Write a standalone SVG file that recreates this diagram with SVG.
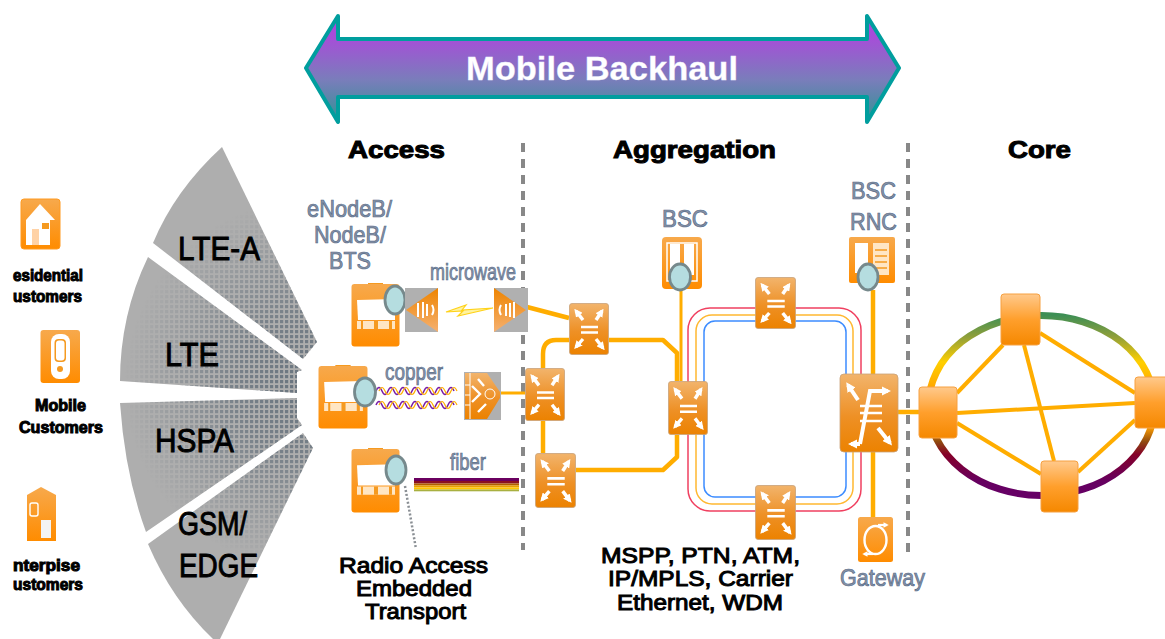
<svg xmlns="http://www.w3.org/2000/svg" xmlns:xlink="http://www.w3.org/1999/xlink" width="1165" height="639" viewBox="0 0 1165 639">
<style>
text{font-family:"Liberation Sans",Arial,sans-serif;text-anchor:start}
.bk{fill:#000;stroke:#000;stroke-width:1;font-weight:700}
.bl{fill:#000;stroke:#000;stroke-width:1}
.gy{fill:#8a94a4;stroke:#53698a;stroke-width:.7}
.cu{fill:none;stroke:#ffad00;stroke-linejoin:round}
.w3{stroke-width:3}.w4{stroke-width:4.5}
.ring{fill:none;stroke-width:1.5}
.cloud{fill:#b5dde0;stroke:#76898c;stroke-width:2.800}
.sec{fill:#aeaeae}
.dash{stroke:#888;stroke-width:4;stroke-dasharray:9 7;fill:none}
</style>
<defs>
<linearGradient id="band" x1="0" y1="0" x2="0" y2="1"><stop offset="0" stop-color="#ab45dd"/><stop offset=".2" stop-color="#a64ed8"/><stop offset=".6" stop-color="#7a7dbb"/><stop offset="1" stop-color="#2f9393"/></linearGradient>
<linearGradient id="org" x1="0" y1="0" x2="0" y2="1"><stop offset="0" stop-color="#f2b46c"/><stop offset=".55" stop-color="#ee9025"/><stop offset="1" stop-color="#ec8200"/></linearGradient>
<linearGradient id="core" x1="0" y1="0" x2="0" y2="1"><stop offset="0" stop-color="#ffc98c"/><stop offset=".5" stop-color="#ff9f2c"/><stop offset="1" stop-color="#f58800"/></linearGradient>
<linearGradient id="bs" x1="0" y1="0" x2="0" y2="1"><stop offset="0" stop-color="#f7a94c"/><stop offset="1" stop-color="#ff8c00"/></linearGradient>
<linearGradient id="tri" x1="0" y1="0" x2="0" y2="1"><stop offset="0" stop-color="#ee8400"/><stop offset="1" stop-color="#f5b070"/></linearGradient>
<linearGradient id="ringc" gradientUnits="userSpaceOnUse" x1="0" y1="315" x2="0" y2="496"><stop offset="0" stop-color="#3d8f55"/><stop offset=".12" stop-color="#8f9f3a"/><stop offset=".26" stop-color="#ffcf00"/><stop offset=".4" stop-color="#ffa800"/><stop offset=".62" stop-color="#ffa000"/><stop offset=".7" stop-color="#8f4a10"/><stop offset=".77" stop-color="#850028"/><stop offset=".92" stop-color="#660060"/><stop offset="1" stop-color="#660066"/></linearGradient>
<radialGradient id="fade" gradientUnits="userSpaceOnUse" cx="310" cy="385" r="185"><stop offset="0" stop-color="#ddd"/><stop offset=".4" stop-color="#aaa"/><stop offset=".75" stop-color="#444"/><stop offset="1" stop-color="#000"/></radialGradient>
<mask id="fm" maskUnits="userSpaceOnUse" x="100" y="130" width="240" height="510"><rect x="100" y="130" width="240" height="510" fill="url(#fade)"/></mask>
<pattern id="dots" patternUnits="userSpaceOnUse" width="5" height="5"><rect x="0" y="0" width="3.200" height="3.200" fill="#5d6a76"/></pattern>
<path id="s1" d="M222 147Q175 190 153 243L303 359L317 342Z"/>
<path id="s2" d="M148 257Q120 315 120 381L297 393V372L302 370Z"/>
<path id="s3" d="M120 403Q125 475 146 532L302 425L297 418V398Z"/>
<path id="s4" d="M148 544Q172 600 213 639H220L313 448L303 433Z"/>
<marker id="ah" viewBox="0 0 6 6" refX="4" refY="3" markerWidth="2.400" markerHeight="2.400" orient="auto"><path d="M0 0L6 3L0 6Z" fill="#fff"/></marker>
<symbol id="sw" viewBox="0 0 40 52" preserveAspectRatio="none">
<rect x=".5" y=".5" width="39" height="51" rx="2.5" fill="url(#org)" stroke="#c9a27a" stroke-width=".8"/>
<g fill="none" stroke="#fff" stroke-width="3.400">
<path d="M14 17L7 8" marker-end="url(#ah)"/><path d="M27 17L33 8" marker-end="url(#ah)"/>
<path d="M14 36L7 44" marker-end="url(#ah)"/><path d="M27 36L34 45" marker-end="url(#ah)"/>
<path d="M12 24H29M12 29.500H29" stroke-width="2.400"/></g>
</symbol>
<symbol id="bst" viewBox="0 0 49 64" preserveAspectRatio="none">
<path d="M17 0H32V2H17Z" fill="#f59a20"/>
<rect x=".5" y="1" width="48" height="62.500" rx="3" fill="url(#bs)"/>
<path d="M6 17L44 16V37H7Z" fill="#fff"/>
<path d="M6 38H44V46H6Z" fill="#ffe6c4"/>
<path d="M10 38H12V46H10ZM23 38H27V46H23ZM38 38H41V46H38Z" fill="#f59a20"/>
</symbol>
</defs>

<g id="banner">
<path d="M338 16L306 68L338 122V97H867V122L899 68L867 16V39H338Z" fill="url(#band)" stroke="#009e9e" stroke-width="4" stroke-linejoin="round"/>
<text x="466" y="80" font-size="33" font-weight="700" fill="#fff" stroke="#eef" stroke-width=".3" textLength="272" lengthAdjust="spacingAndGlyphs">Mobile Backhaul</text>
</g>

<g id="sectors">
<use xlink:href="#s1" class="sec"/><use xlink:href="#s2" class="sec"/><use xlink:href="#s3" class="sec"/><use xlink:href="#s4" class="sec"/>
<g mask="url(#fm)" fill="url(#dots)"><use xlink:href="#s1"/><use xlink:href="#s2"/><use xlink:href="#s3"/><use xlink:href="#s4"/></g>
<g font-size="34" class="bl">
<text x="178" y="260" textLength="82" lengthAdjust="spacingAndGlyphs">LTE-A</text>
<text x="165" y="366" textLength="54" lengthAdjust="spacingAndGlyphs">LTE</text>
<text x="155" y="452" textLength="79" lengthAdjust="spacingAndGlyphs">HSPA</text>
<text x="178" y="535" textLength="69" lengthAdjust="spacingAndGlyphs">GSM/</text>
<text x="179" y="577" textLength="79" lengthAdjust="spacingAndGlyphs">EDGE</text>
</g>
</g>

<g id="residential">
<rect x="21" y="199" width="39" height="50" rx="3" fill="url(#bs)" stroke="#ff9a20"/>
<path d="M40 204L55 220H50V245H26V220H26L40 204Z" fill="#fff"/>
<path d="M32 229H39V245H32Z" fill="#ffd2a6"/><rect x="42" y="223" width="7" height="6" fill="#f59a20"/>
<g class="bk" font-size="16"><text x="13" y="281" textLength="70" lengthAdjust="spacingAndGlyphs">esidential</text><text x="13" y="302" textLength="69" lengthAdjust="spacingAndGlyphs">ustomers</text></g>
</g>
<g id="mobile">
<rect x="40.500" y="330" width="39.500" height="53" rx="3" fill="url(#bs)"/>
<rect x="51" y="334" width="19" height="45" rx="8" fill="#fff"/>
<rect x="54.500" y="339" width="11.500" height="23" rx="4" fill="#f59a20"/><rect x="56" y="340.500" width="8.500" height="20" rx="3" fill="#fff"/>
<circle cx="60" cy="369" r="3" fill="#f59a20"/>
<g class="bk" font-size="16"><text x="35" y="411" textLength="51" lengthAdjust="spacingAndGlyphs">Mobile</text><text x="19" y="433" textLength="84" lengthAdjust="spacingAndGlyphs">Customers</text></g>
</g>
<g id="enterprise">
<path d="M27 495L41 487L56 495V541H27Z" fill="url(#bs)"/>
<rect x="30" y="503" width="8" height="13" rx="2" fill="none" stroke="#fff" stroke-width="1.400"/>
<rect x="41" y="520" width="10" height="18" fill="#f3f3f3"/>
<g class="bk" font-size="16"><text x="13" y="571" textLength="67" lengthAdjust="spacingAndGlyphs">nterpise</text><text x="13" y="590" textLength="70" lengthAdjust="spacingAndGlyphs">ustomers</text></g>
</g>

<g id="headings" font-size="24" class="bk">
<text x="348" y="158" textLength="97" lengthAdjust="spacingAndGlyphs">Access</text>
<text x="613" y="158" textLength="163" lengthAdjust="spacingAndGlyphs">Aggregation</text>
<text x="1008" y="158" textLength="63" lengthAdjust="spacingAndGlyphs">Core</text>
</g>

<g id="dividers">
<path class="dash" d="M523 143V550"/>
<path class="dash" d="M908 143V552"/>
</g>

<g id="connectors">
<rect class="ring" x="688" y="308" width="173" height="203" rx="22" stroke="#f04060"/>
<rect class="ring" x="696" y="315" width="157" height="189" rx="16" stroke="#ffb830"/>
<rect class="ring" x="704" y="321" width="142" height="176" rx="11" stroke="#3c8cff"/>
<path class="cu w4" d="M527 307L569 318"/>
<path class="cu w4" d="M569 340H556Q543 340 543 354V368"/>
<path class="cu w4" d="M609 340H663L677 353V381"/>
<path class="cu w4" d="M543 421V453"/>
<path class="cu w4" d="M576 470H663L677 457V435"/>
<path class="cu w3" d="M501 393H525"/>
<path class="cu w3" d="M681 289V381"/>
<path class="cu w4" d="M873 290V374"/>
<path class="cu w4" d="M873 452V517"/>
<path class="cu w4" d="M898 412H920"/>
<ellipse cx="1041.500" cy="405.500" rx="113" ry="90" fill="none" stroke="url(#ringc)" stroke-width="7"/>
<g class="cu" stroke-width="4">
<path d="M957 393L1003 345"/><path d="M957 413L1135 403"/><path d="M957 423L1041 474"/>
<path d="M1040 333L1135 393"/><path d="M1024 345L1054 461"/><path d="M1135 420L1078 472"/>
</g>
<path d="M446 312L466 305L462 310L493 308L458 316L463 311Z" fill="#fff3a0" stroke="#ffd21a" stroke-width="1.200"/>
<path d="M376 391q3-7 6 0t6 0t6 0t6 0t6 0t6 0t6 0t6 0t6 0t6 0t6 0t6 0t6 0" fill="none" stroke="#7a1fa8" stroke-width="1.500"/>
<path d="M379 391q3-7 6 0t6 0t6 0t6 0t6 0t6 0t6 0t6 0t6 0t6 0t6 0t6 0t6 0" fill="none" stroke="#ffb000" stroke-width="1.200"/>
<path d="M376 405q3-7 6 0t6 0t6 0t6 0t6 0t6 0t6 0t6 0t6 0t6 0t6 0t6 0t6 0" fill="none" stroke="#7a1fa8" stroke-width="1.500"/>
<path d="M379 405q3-7 6 0t6 0t6 0t6 0t6 0t6 0t6 0t6 0t6 0t6 0t6 0t6 0t6 0" fill="none" stroke="#ffb000" stroke-width="1.200"/>
<g id="fiber-bundle">
<rect x="414" y="478" width="105" height="3.500" fill="#6a0060"/>
<rect x="414" y="481" width="105" height="2.500" fill="#8a1020"/>
<rect x="414" y="483.500" width="105" height="2" fill="#b06000"/>
<rect x="414" y="485.500" width="105" height="2" fill="#e8a000"/>
<rect x="414" y="487.500" width="105" height="2" fill="#ffc800"/>
<rect x="414" y="489.500" width="105" height="1.800" fill="#a8b040"/>
</g>
<path d="M405 486L411 520L416 549" fill="none" stroke="#8a8f94" stroke-width="2.500" stroke-dasharray="2 2"/>
</g>

<g id="bs-microwave">
<use xlink:href="#bst" x="351" y="283" width="49" height="64"/>
<ellipse class="cloud" cx="395" cy="300" rx="10" ry="14"/>
<g class="gy" font-size="24">
<text x="307" y="217" textLength="85" lengthAdjust="spacingAndGlyphs">eNodeB/</text>
<text x="314" y="243" textLength="72" lengthAdjust="spacingAndGlyphs">NodeB/</text>
<text x="329" y="269" textLength="42" lengthAdjust="spacingAndGlyphs">BTS</text>
<text x="430" y="280" textLength="86" lengthAdjust="spacingAndGlyphs">microwave</text>
</g>
</g>
<g id="microwave-tx">
<rect x="405" y="288" width="33" height="44" fill="#b0b0b0"/>
<path d="M406 310L438 288V332Z" fill="url(#tri)"/>
<path d="M418 303V317M423 302V318M427 304V316M432 305Q435 310 432 315" stroke="#fff" stroke-width="2" fill="none"/>
</g>
<g id="microwave-rx">
<rect x="494" y="288" width="34" height="44" fill="#b0b0b0"/>
<path d="M494 288L526 310L494 332Z" fill="url(#tri)"/>
<path d="M510 303V317M514 302V318M506 304V316M501 305Q498 310 501 315" stroke="#fff" stroke-width="2" fill="none"/>
</g>
<g id="bs-copper">
<use xlink:href="#bst" x="318" y="365" width="50" height="64"/>
<ellipse class="cloud" cx="365" cy="392" rx="10.500" ry="14"/>
<text class="gy" x="385" y="380" font-size="24" textLength="58" lengthAdjust="spacingAndGlyphs">copper</text>
</g>
<g id="mux">
<rect x="464" y="372" width="37" height="48" fill="#b0b0b0"/>
<path d="M465 373H487L500 392V398L487 419H465Z" fill="url(#org)"/>
<path d="M470 373V419M465 385H470M465 395H470M465 405H470" stroke="#fff" stroke-width="1"/>
<path d="M472 386L480 394L472 402M478 379L484 386M478 412L486 404" stroke="#fff" stroke-width="2.400" fill="none"/>
<circle cx="490" cy="394" r="5" fill="none" stroke="#fff" stroke-width="1"/>
</g>
<g id="bs-fiber">
<use xlink:href="#bst" x="351" y="448" width="49" height="65"/>
<ellipse class="cloud" cx="396" cy="470" rx="10" ry="14"/>
<text class="gy" x="450" y="470" font-size="24" textLength="36" lengthAdjust="spacingAndGlyphs">fiber</text>
</g>
<g id="label-rat" class="bl" font-size="22">
<text x="339" y="572.500" textLength="149" lengthAdjust="spacingAndGlyphs">Radio Access</text>
<text x="356" y="595.500" textLength="116" lengthAdjust="spacingAndGlyphs">Embedded</text>
<text x="365" y="619" textLength="101" lengthAdjust="spacingAndGlyphs">Transport</text>
</g>
<g id="label-tech" class="bl" font-size="22">
<text x="601" y="563" textLength="199" lengthAdjust="spacingAndGlyphs">MSPP, PTN, ATM,</text>
<text x="608" y="586" textLength="185" lengthAdjust="spacingAndGlyphs">IP/MPLS, Carrier</text>
<text x="617" y="610" textLength="166" lengthAdjust="spacingAndGlyphs">Ethernet, WDM</text>
</g>

<g id="sw1"><use xlink:href="#sw" x="569" y="303" width="40" height="52"/></g>
<g id="sw2"><use xlink:href="#sw" x="525" y="368" width="40" height="53"/></g>
<g id="sw3"><use xlink:href="#sw" x="535" y="453" width="41" height="55"/></g>
<g id="sw4"><use xlink:href="#sw" x="668" y="381" width="40" height="54"/></g>
<g id="sw5"><use xlink:href="#sw" x="755" y="277" width="41" height="52"/></g>
<g id="sw6"><use xlink:href="#sw" x="755" y="485" width="41" height="55"/></g>

<g id="bsc">
<rect x="662" y="237" width="40" height="52" rx="4" fill="url(#bs)"/>
<rect x="667" y="243" width="30" height="38" fill="none" stroke="#fff" stroke-width="1.500"/>
<path d="M670 244H680V275H670ZM684 244H694V275H684Z" fill="#fff"/>
<ellipse class="cloud" cx="680" cy="277" rx="10.500" ry="13"/>
<text class="gy" x="662" y="227" font-size="24" textLength="46" lengthAdjust="spacingAndGlyphs">BSC</text>
</g>
<g id="rnc">
<rect x="849" y="237" width="46" height="46" rx="2" fill="url(#bs)"/>
<rect x="855" y="243" width="13" height="30" fill="#fff"/>
<rect x="873" y="243" width="16" height="32" fill="#ffe6c4"/>
<path d="M875 250H887M875 256H887M875 262H887M875 268H887" stroke="#f59a20" stroke-width="1.500"/>
<ellipse class="cloud" cx="868" cy="277" rx="10" ry="13"/>
<g class="gy" font-size="24">
<text x="851" y="199" textLength="45" lengthAdjust="spacingAndGlyphs">BSC</text>
<text x="850" y="230" textLength="47" lengthAdjust="spacingAndGlyphs">RNC</text>
</g>
</g>
<g id="big-switch">
<rect x="840" y="374" width="58" height="78" rx="4" fill="url(#org)" stroke="#c9a27a" stroke-width=".8"/>
<g fill="none" stroke="#fff" stroke-width="4">
<path d="M858 400L848 385" marker-end="url(#ah)"/>
<path d="M878 428L890 443" marker-end="url(#ah)"/>
<path d="M860 444L870 391H888" marker-end="url(#ah)"/>
<path d="M860 444H851" marker-end="url(#ah)"/>
<path d="M860 406H882M860 413H882M860 421H882" stroke-width="2.600"/>
</g>
</g>
<g id="gateway">
<rect x="858" y="517" width="35" height="45" rx="2.500" fill="url(#bs)"/>
<ellipse cx="875.500" cy="540" rx="11" ry="14" fill="none" stroke="#fff" stroke-width="2.400"/>
<path d="M878 525H887" stroke="#fff" stroke-width="2.200" marker-end="url(#ah)"/>
<path d="M873 554H864" stroke="#fff" stroke-width="2.200" marker-end="url(#ah)"/>
<text class="gy" x="840" y="586" font-size="24" textLength="85" lengthAdjust="spacingAndGlyphs">Gateway</text>
</g>
<g id="core1"><rect x="919" y="387" width="38" height="51" rx="3" fill="url(#core)" stroke="#f6a040"/></g>
<g id="core2"><rect x="1001" y="294" width="39" height="51" rx="3" fill="url(#core)" stroke="#f6a040"/></g>
<g id="core3"><rect x="1135" y="377" width="36" height="51" rx="3" fill="url(#core)" stroke="#f6a040"/></g>
<g id="core4"><rect x="1041" y="461" width="37" height="51" rx="3" fill="url(#core)" stroke="#f6a040"/></g>
</svg>
